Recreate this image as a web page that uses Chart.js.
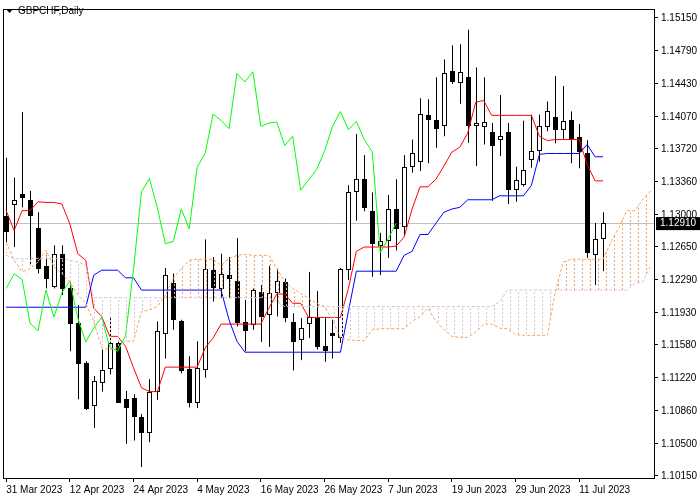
<!DOCTYPE html>
<html>
<head>
<meta charset="utf-8">
<script src="https://cdn.jsdelivr.net/npm/chart.js@4.4.0/dist/chart.umd.min.js"></script>
<style>
  body { margin: 0; background: #fff; }
</style>
</head>
<body>
<canvas id="mainchart" width="700" height="500"></canvas>
<script>
/* daily candles, index 0 = 31 Mar 2023 */
const opens  = [1.12992,1.13111,1.13233,1.13165,1.12854,1.12443,1.12208,1.12569,1.12197,1.11818,1.11385,1.10909,1.11162,1.11313,1.11602,1.10995,1.11006,1.10790,1.10620,1.11071,1.11703,1.12252,1.11847,1.11313,1.10945,1.11306,1.12403,1.12190,1.12349,1.12280,1.11836,1.11793,1.12161,1.11902,1.12147,1.12262,1.11836,1.11631,1.11811,1.11873,1.11566,1.11706,1.11656,1.12396,1.13245,1.13396,1.13046,1.12656,1.12714,1.13064,1.12872,1.13526,1.13577,1.14086,1.14031,1.13966,1.14573,1.14436,1.14501,1.13966,1.13955,1.13901,1.13822,1.13905,1.13269,1.13324,1.13595,1.13696,1.13959,1.14067,1.13930,1.14031,1.13847,1.13678,1.12566,1.12739];
const highs  = [1.13623,1.13407,1.14122,1.13262,1.13028,1.12558,1.12667,1.12667,1.12270,1.12017,1.11403,1.11241,1.11530,1.11891,1.11620,1.11078,1.11042,1.10826,1.11205,1.11837,1.12421,1.12360,1.11855,1.11457,1.11620,1.12732,1.12540,1.12576,1.12540,1.12746,1.12071,1.12197,1.12233,1.12443,1.12414,1.12305,1.11927,1.11873,1.12378,1.12168,1.11873,1.11855,1.12421,1.13324,1.13883,1.13652,1.13245,1.12804,1.13216,1.13389,1.13652,1.13822,1.14273,1.14262,1.14501,1.14696,1.14851,1.14862,1.15020,1.14609,1.14501,1.14002,1.14309,1.14002,1.13526,1.14028,1.14093,1.14093,1.14237,1.14515,1.14407,1.14129,1.13992,1.13815,1.12912,1.13028];
const lows   = [1.12703,1.12649,1.13082,1.12450,1.12360,1.12197,1.12197,1.12125,1.11512,1.10988,1.10870,1.10674,1.11071,1.11259,1.10952,1.10501,1.10537,1.10248,1.10519,1.10981,1.11432,1.11746,1.11270,1.10898,1.10891,1.11223,1.12053,1.12089,1.12089,1.11782,1.11512,1.11746,1.11613,1.11559,1.11891,1.11829,1.11302,1.11414,1.11656,1.11530,1.11396,1.11432,1.11602,1.12288,1.12937,1.13039,1.12324,1.12342,1.12530,1.12613,1.12775,1.13461,1.13479,1.13562,1.13732,1.13858,1.14428,1.14212,1.13786,1.13533,1.13768,1.13154,1.13641,1.13118,1.13143,1.13309,1.13515,1.13580,1.13912,1.13779,1.13829,1.13562,1.13508,1.12530,1.12233,1.12385];
const closes = [1.12811,1.13165,1.13183,1.12992,1.12414,1.12298,1.12569,1.12190,1.11807,1.11374,1.10880,1.11187,1.11306,1.11602,1.10952,1.10891,1.10790,1.10617,1.11071,1.11728,1.12342,1.11855,1.11295,1.10952,1.11331,1.12414,1.12197,1.12356,1.12295,1.11818,1.11735,1.12179,1.11884,1.12150,1.12280,1.11873,1.11613,1.11764,1.11880,1.11559,1.11512,1.11681,1.12407,1.13252,1.13396,1.13075,1.12685,1.12710,1.13064,1.12847,1.13522,1.13670,1.14100,1.14031,1.13941,1.14544,1.14450,1.14562,1.13966,1.14002,1.14013,1.13757,1.13858,1.13269,1.13381,1.13493,1.13696,1.13966,1.14129,1.13930,1.14020,1.13822,1.13688,1.12587,1.12739,1.12910];

/* ichimoku lines as drawn */
const tenkan = [1.13046,1.12829,1.13046,1.13046,1.13143,1.13136,1.13136,1.13118,1.12901,1.12576,1.12504,1.11981,1.11891,1.11674,1.11674,1.11566,1.11331,1.11114,1.11071,1.11071,1.11338,1.11338,1.11338,1.11338,1.11338,1.11548,1.11656,1.11808,1.11808,1.11808,1.11808,1.11808,1.11808,1.11981,1.12136,1.12136,1.12035,1.12035,1.11880,1.11880,1.11880,1.11880,1.11880,1.12197,1.12602,1.12649,1.12649,1.12649,1.12649,1.12660,1.12757,1.13064,1.13306,1.13306,1.13389,1.13533,1.13685,1.13739,1.13894,1.14230,1.14248,1.14086,1.14086,1.14086,1.14086,1.14086,1.14086,1.13858,1.13811,1.13822,1.13822,1.13822,1.13822,1.13551,1.13371,1.13371];
const kijun  = [1.11992,1.11992,1.11992,1.11992,1.11992,1.11992,1.11992,1.11992,1.11992,1.11992,1.11992,1.12342,1.12396,1.12396,1.12396,1.12313,1.12313,1.12179,1.12179,1.12179,1.12179,1.12179,1.12179,1.12179,1.12179,1.12179,1.12179,1.12179,1.11855,1.11620,1.11501,1.11501,1.11501,1.11501,1.11501,1.11501,1.11501,1.11501,1.11501,1.11501,1.11501,1.11501,1.11501,1.11945,1.12385,1.12385,1.12385,1.12385,1.12385,1.12385,1.12558,1.12602,1.12786,1.12786,1.12909,1.13028,1.13064,1.13082,1.13165,1.13165,1.13165,1.13165,1.13208,1.13208,1.13208,1.13208,1.13324,1.13660,1.13670,1.13670,1.13670,1.13670,1.13670,1.13768,1.13634,1.13634];
const spanA  = [1.12703,1.12504,1.12378,1.12414,1.12486,1.12613,1.12432,1.12360,1.12270,1.12125,1.12035,1.11836,1.11548,1.11530,1.11548,1.11620,1.11620,1.11945,1.11963,1.11999,1.12125,1.12306,1.12414,1.12504,1.12515,1.12515,1.12515,1.12450,1.12522,1.12558,1.12569,1.12558,1.12558,1.12558,1.12414,1.12270,1.12197,1.12143,1.12089,1.12035,1.11999,1.11855,1.11656,1.11638,1.11627,1.11627,1.11746,1.11757,1.11757,1.11757,1.11757,1.11836,1.11891,1.11981,1.11836,1.11746,1.11674,1.11663,1.11663,1.11721,1.11808,1.11808,1.11764,1.11757,1.11692,1.11685,1.11685,1.11685,1.11685,1.12161,1.12486,1.12515,1.12515,1.12515,1.12515,1.12515,1.12703,1.12865,1.13046,1.13046,1.13172,1.13262];
const spanB  = [1.12558,1.12522,1.12522,1.12522,1.12522,1.12522,1.12522,1.12522,1.12504,1.12486,1.12450,1.12096,1.12096,1.12096,1.12096,1.12096,1.12096,1.12096,1.12096,1.12096,1.12096,1.12096,1.12096,1.12096,1.12096,1.12096,1.12096,1.12096,1.12096,1.12096,1.12096,1.12096,1.12096,1.12096,1.12053,1.11999,1.11999,1.11999,1.11999,1.11999,1.11999,1.11999,1.11999,1.11999,1.11999,1.11999,1.11999,1.11999,1.11999,1.11999,1.11999,1.11999,1.11999,1.11999,1.11999,1.11999,1.11999,1.11999,1.11999,1.11999,1.11999,1.11999,1.12053,1.12179,1.12179,1.12179,1.12179,1.12179,1.12179,1.12179,1.12179,1.12179,1.12179,1.12179,1.12179,1.12179,1.12179,1.12179,1.12179,1.12251,1.12270,1.12450];
const chikouShift = 26;

const priceTicks = [1.15150,1.14790,1.14430,1.14070,1.13720,1.13360,1.13000,1.12650,1.12290,1.11930,1.11580,1.11220,1.10860,1.10500,1.10150];
const dateLabels = {0:'31 Mar 2023',8:'12 Apr 2023',16:'24 Apr 2023',24:'4 May 2023',32:'16 May 2023',40:'26 May 2023',48:'7 Jun 2023',56:'19 Jun 2023',64:'29 Jun 2023',72:'11 Jul 2023'};
const lastPrice = 1.12910;

const pts = (arr, off) => arr.map((v, i) => ({x: i + (off || 0), y: v}));
const chikou = closes.slice(chikouShift);

function hatch(color) {
  var c = document.createElement('canvas');
  c.width = 8; c.height = 4;
  var g = c.getContext('2d');
  g.fillStyle = color;
  g.fillRect(6, 0, 1, 2);
  return g.createPattern(c, 'repeat');
}
const ctx = document.getElementById('mainchart');
const patA = hatch('#f4a460');
const patB = hatch('#d8bfd8');
const FONT = '"Liberation Sans", Arial, sans-serif';

const candles = {
  id: 'candles',
  beforeDatasetsDraw(chart) {
    const g = chart.ctx, xs = chart.scales.x, ys = chart.scales.y, a = chart.chartArea;
    g.save();
    g.beginPath(); g.rect(a.left, a.top, a.right - a.left, a.bottom - a.top); g.clip();
    // current price line
    const py = Math.round(ys.getPixelForValue(lastPrice)) + 0.5;
    g.strokeStyle = '#c0c0c0'; g.lineWidth = 1;
    g.beginPath(); g.moveTo(a.left, py); g.lineTo(a.right, py); g.stroke();
    for (var i = 0; i < closes.length; i++) {
      const x = Math.round(xs.getPixelForValue(i));
      const o = ys.getPixelForValue(opens[i]), c = ys.getPixelForValue(closes[i]);
      const h = ys.getPixelForValue(highs[i]), l = ys.getPixelForValue(lows[i]);
      g.strokeStyle = '#000';
      g.beginPath(); g.moveTo(x + 0.5, h); g.lineTo(x + 0.5, l); g.stroke();
      const top = Math.round(Math.min(o, c)), bot = Math.max(Math.round(Math.max(o, c)), top + 1);
      if (closes[i] >= opens[i]) {
        g.fillStyle = '#fff'; g.fillRect(x - 2, top, 5, bot - top);
        g.strokeRect(x - 1.5, top + 0.5, 4, bot - top - 1 > 0 ? bot - top - 1 : 1);
      } else {
        g.fillStyle = '#000'; g.fillRect(x - 2, top, 5, bot - top);
      }
    }
    g.restore();
  },
  afterDraw(chart) {
    const g = chart.ctx, ys = chart.scales.y, a = chart.chartArea;
    g.save();
    g.strokeStyle = '#000'; g.lineWidth = 1;
    g.strokeRect(a.left + 0.5, a.top + 0.5, a.right - a.left, a.bottom - a.top);
    // title
    g.fillStyle = '#000';
    g.beginPath(); g.moveTo(6, 9); g.lineTo(13, 9); g.lineTo(9.5, 13); g.fill();
    g.font = '10px ' + FONT; g.textBaseline = 'middle';
    g.fillText('GBPCHF,Daily', 18, 11);
    // price tag
    const py = ys.getPixelForValue(lastPrice);
    g.fillRect(a.right + 2, py - 6, 44, 13);
    g.fillStyle = '#fff';
    g.fillText(lastPrice.toFixed(5), a.right + 6, py + 0.5);
    g.restore();
  }
};

new Chart(ctx, {
  type: 'line',
  data: {
    datasets: [
      {data: pts(spanA), borderColor: '#f4a460', borderWidth: 1, borderDash: [3, 2], pointRadius: 0,
       fill: {target: 1, above: patA, below: patB}},
      {data: pts(spanB), borderColor: '#d8bfd8', borderWidth: 1, borderDash: [3, 2], pointRadius: 0, fill: false},
      {data: pts(chikou), borderColor: '#00ff00', borderWidth: 1, pointRadius: 0, fill: false},
      {data: pts(kijun), borderColor: '#0000ff', borderWidth: 1, pointRadius: 0, fill: false},
      {data: pts(tenkan), borderColor: '#ff0000', borderWidth: 1, pointRadius: 0, fill: false}
    ]
  },
  options: {
    responsive: false,
    animation: false,
    devicePixelRatio: 1,
    layout: {padding: {left: 3, top: 5, right: 0, bottom: 2}},
    plugins: {legend: false, tooltip: {enabled: false}},
    scales: {
      x: {
        type: 'linear', min: -0.4, max: 81.4,
        afterBuildTicks: s => { s.ticks = Object.keys(dateLabels).map(k => ({value: +k})); },
        ticks: {callback: v => dateLabels[v], align: 'start', maxRotation: 0, autoSkip: false,
                color: '#000', font: {family: FONT, size: 10}, padding: 2},
        grid: {drawOnChartArea: false, tickLength: 4, color: '#000'},
        border: {color: '#000'}
      },
      y: {
        position: 'right', min: 1.10128, max: 1.15247,
        afterBuildTicks: s => { s.ticks = priceTicks.map(v => ({value: v})); },
        afterFit: s => { s.width = 46; },
        ticks: {callback: v => v.toFixed(5), autoSkip: false, color: '#000',
                font: {family: FONT, size: 10}, padding: 3},
        grid: {drawOnChartArea: false, tickLength: 4, color: '#000'},
        border: {color: '#000'}
      }
    }
  },
  plugins: [candles]
});
</script>
</body>
</html>
